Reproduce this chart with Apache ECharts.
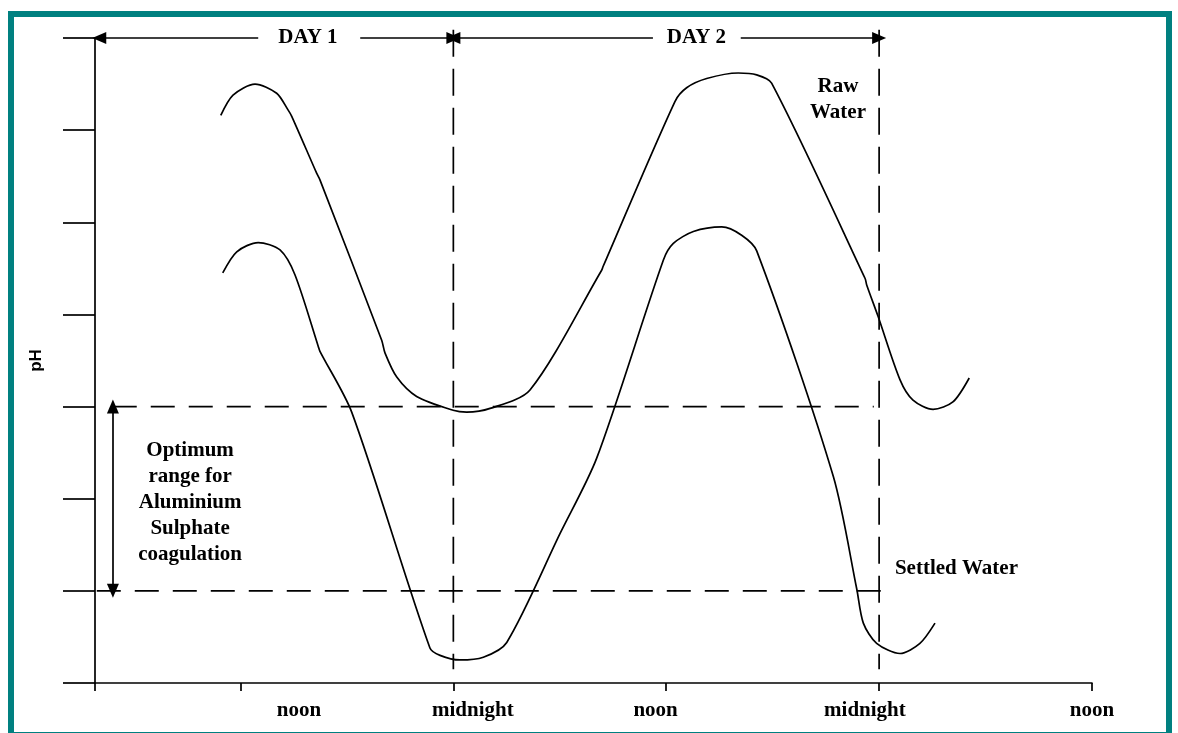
<!DOCTYPE html>
<html><head><meta charset="utf-8">
<script src="https://cdn.jsdelivr.net/npm/echarts@6/dist/echarts.min.js"></script>
<style>html,body{margin:0;padding:0;background:#fff}#c{width:1178px;height:733px}</style>
</head><body><div id="c"></div>
<script>
// ---- data (x = hours, y = pH) ----
const rawHours = [10.89,11.58,12.82,14.04,14.68,14.89,16.30,16.48,19.96,20.15,20.81,21.93,23.99,24.75,26.07,28.32,32.36,32.44,36.49,37.15,38.28,40.06,41.10,41.94,47.21,47.30,47.94,49.18,49.91,51.04,52.16,53.08];
const rawPH    = [11.16,11.38,11.50,11.40,11.22,11.15,10.53,10.46,8.72,8.58,8.32,8.11,7.96,7.94,7.98,8.18,9.48,9.52,11.31,11.46,11.56,11.62,11.60,11.51,9.39,9.32,8.98,8.29,8.07,7.97,8.05,8.31];
const settledHours = [11.00,11.79,13.00,14.23,15.07,16.39,16.48,18.27,22.68,23.25,24.37,25.69,27.01,30.01,32.08,35.84,36.40,37.53,39.13,40.25,41.10,45.42,46.74,47.11,47.86,49.18,50.30,51.15];
const settledPH    = [9.45,9.68,9.78,9.70,9.43,8.65,8.60,7.94,5.38,5.30,5.25,5.28,5.44,6.62,7.44,9.59,9.77,9.90,9.95,9.86,9.69,7.24,6.02,5.65,5.43,5.32,5.43,5.65];

const optimumPH = [6, 8];             // lower / upper limit of optimum range
const optimumStartHours = [3.9, 4.8]; // where each dashed limit line starts
const optimumEndHours = [48.2, 47.7];
const midnightHours = [24, 48];
const tickHours = [3.8, 12, 24, 36, 48, 60];
const labelHours = [15.3, 25.1, 35.4, 47.2, 60];
const labelTexts = ['noon', 'midnight', 'noon', 'midnight', 'noon'];
const dayNames = ['DAY 1', 'DAY 2'];
const dayTextHours = [15.8, 37.7];
const dayArrowStartHours = [4.04, 24];
const dayArrowEndHours = [24, 48];
const dayGapHours = [[13.0, 18.75], [35.25, 40.2]];
const topPH = 12, bottomPH = 5;
const optimumArrowHour = 4.81;
const optimumText = 'Optimum\nrange for\nAluminium\nSulphate\ncoagulation';
const optimumTextPos = [9.16, 6.96];
const rawText = 'Raw\nWater';
const rawTextPos = [45.68, 11.33];
const settledText = 'Settled Water';
const settledTextPos = [52.36, 6.24];

// ---- chart ----
const serif = 'Liberation Serif';
const textStyle = {fontFamily: serif, fontWeight: 'bold', fontSize: 21, color: '#000', lineHeight: 26, opacity: 1, textBorderWidth: 0};
const zip = (xs, ys) => xs.map((x, i) => [x, ys[i]]);
const lw = 1.7;

const chart = echarts.init(document.getElementById('c'), null, {renderer: 'canvas'});

const dashH = [24, 14], dashV = [27, 12];
const refSeries = [];
optimumPH.forEach((p, i) => refSeries.push({
  type: 'line', symbol: 'none', silent: true, clip: false,
  data: [[optimumStartHours[i], p], [optimumEndHours[i], p]],
  lineStyle: {color: '#000', width: lw, type: dashH}
}));
midnightHours.forEach(h => refSeries.push({
  type: 'line', symbol: 'none', silent: true, clip: false,
  data: [[h, topPH + 0.09], [h, bottomPH + 0.15]],
  lineStyle: {color: '#000', width: lw, type: dashV}
}));

const arrowLines = [];
dayNames.forEach((d, i) => {
  arrowLines.push([{coord: [dayArrowStartHours[i], topPH], symbol: 'triangle'}, {coord: [dayGapHours[i][0], topPH], symbol: 'none'}]);
  arrowLines.push([{coord: [dayGapHours[i][1], topPH], symbol: 'none'}, {coord: [dayArrowEndHours[i], topPH], symbol: 'triangle'}]);
});
midnightHours.forEach(h => arrowLines.push([{coord: [h, topPH + 0.09], symbol: 'none'}, {coord: [h, topPH - 0.12], symbol: 'none'}]));
arrowLines.push([{coord: [optimumArrowHour, optimumPH[0]], symbol: 'triangle'}, {coord: [optimumArrowHour, optimumPH[1]], symbol: 'triangle'}]);

const texts = [
  {value: optimumTextPos, label: {formatter: optimumText}},
  {value: rawTextPos, label: {formatter: rawText}},
  {value: settledTextPos, label: {formatter: settledText}},
].concat(dayNames.map((d, i) => ({value: [dayTextHours[i], topPH], label: {formatter: d}})));

chart.setOption({
  animation: false,
  backgroundColor: '#fff',
  grid: {left: 95, right: 86, top: 38, bottom: 50, containLabel: false},
  xAxis: {
    type: 'value', min: 3.8, max: 60,
    splitLine: {show: false},
    axisLine: {show: true, lineStyle: {color: '#000', width: lw}},
    axisTick: {show: true, customValues: tickHours, length: 8, lineStyle: {color: '#000', width: lw}},
    axisLabel: {
      show: true, customValues: labelHours, margin: 17,
      fontFamily: serif, fontWeight: 'bold', fontSize: 21, color: '#000',
      formatter: v => {
        let best = 0;
        labelHours.forEach((h, i) => { if (Math.abs(h - v) < Math.abs(labelHours[best] - v)) best = i; });
        return labelTexts[best];
      }
    }
  },
  yAxis: {
    type: 'value', min: bottomPH, max: topPH, interval: 1,
    name: 'pH', nameLocation: 'middle', nameRotate: 90, nameGap: 50,
    nameTextStyle: {fontFamily: 'Liberation Sans', fontWeight: 'bold', fontSize: 17, color: '#000'},
    splitLine: {show: false},
    axisLine: {show: true, lineStyle: {color: '#000', width: lw}},
    axisTick: {show: true, inside: false, length: 32, lineStyle: {color: '#000', width: lw}},
    axisLabel: {show: false}
  },
  graphic: [{
    type: 'rect', silent: true, z: 100,
    shape: {x: 11, y: 14, width: 1158, height: 721},
    style: {fill: 'none', stroke: '#008080', lineWidth: 6}
  }],
  series: [
    {type: 'line', name: 'Raw Water', data: zip(rawHours, rawPH), symbol: 'none', smooth: 0.28, silent: true,
     lineStyle: {color: '#000', width: lw}},
    {type: 'line', name: 'Settled Water', data: zip(settledHours, settledPH), symbol: 'none', smooth: 0.28, silent: true,
     lineStyle: {color: '#000', width: lw}},
    ...refSeries,
    {type: 'line', data: [], silent: true, clip: false,
     markLine: {silent: true, symbolSize: [12, 14], label: {show: false},
       lineStyle: {color: '#000', width: lw, type: 'solid'}, data: arrowLines}},
    {type: 'scatter', data: texts, symbolSize: 1, silent: true, clip: false,
     itemStyle: {color: 'transparent', opacity: 1},
     label: Object.assign({show: true, position: 'inside', align: 'center', verticalAlign: 'middle'}, textStyle)}
  ]
});
</script></body></html>
